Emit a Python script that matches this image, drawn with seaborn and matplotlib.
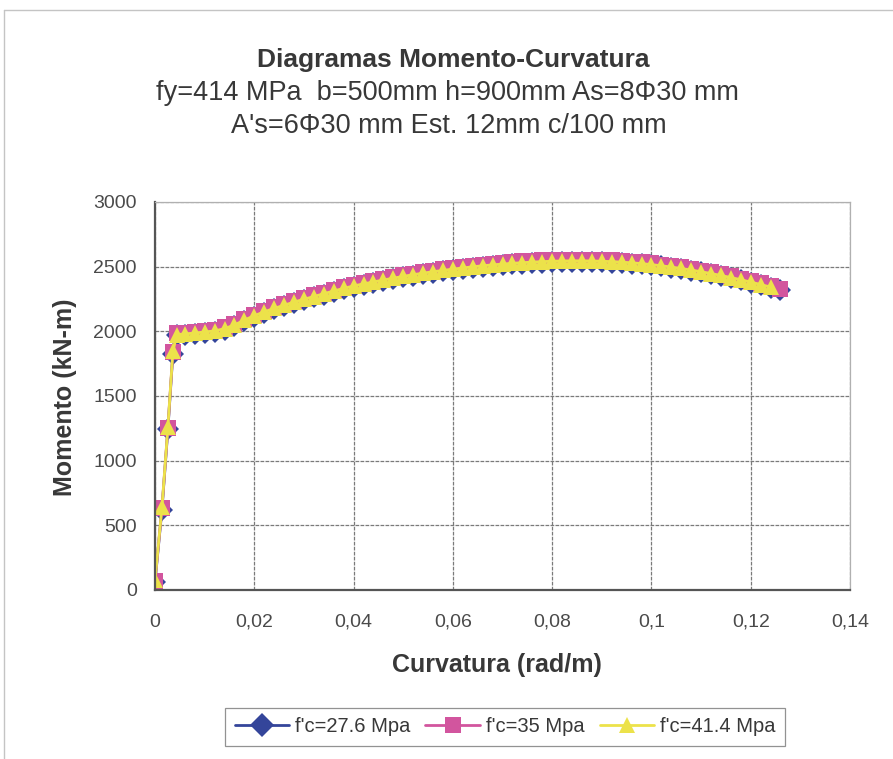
import numpy as np
import pandas as pd
import matplotlib
matplotlib.use("Agg")
import matplotlib.pyplot as plt
from matplotlib.lines import Line2D
import seaborn as sns

# Curvature (rad/m) shared by the three sections
curvatura = [
    0.0, 0.0014, 0.0026, 0.0036, 0.0044,
    0.006, 0.008, 0.010, 0.012, 0.014, 0.016, 0.018, 0.020,
    0.022, 0.024, 0.026, 0.028, 0.030, 0.032, 0.034, 0.036,
    0.038, 0.040, 0.042, 0.044, 0.046, 0.048, 0.050, 0.052,
    0.054, 0.056, 0.058, 0.060, 0.062, 0.064, 0.066, 0.068,
    0.070, 0.072, 0.074, 0.076, 0.078, 0.080, 0.082, 0.084,
    0.086, 0.088, 0.090, 0.092, 0.094, 0.096, 0.098, 0.100,
    0.102, 0.104, 0.106, 0.108, 0.110, 0.112, 0.114, 0.116,
    0.118, 0.120, 0.122, 0.124, 0.126,
]

# Moment (kN-m) for f'c = 27.6 MPa
momento_276 = [
    62, 622, 1244, 1826, 1968,
    1973, 1980, 1988, 1996, 2014, 2042, 2080, 2114,
    2144, 2170, 2195, 2219, 2241, 2262, 2284, 2305,
    2325, 2344, 2360, 2375, 2390, 2404, 2418, 2431,
    2443, 2454, 2464, 2474, 2483, 2492, 2500, 2507,
    2513, 2519, 2524, 2528, 2532, 2535, 2537, 2538,
    2538, 2537, 2535, 2532, 2528, 2524, 2518, 2510,
    2502, 2492, 2481, 2469, 2456, 2442, 2427, 2411,
    2394, 2376, 2357, 2337, 2318,
]

# Moment (kN-m) for f'c = 35 MPa
momento_35 = [
    70, 632, 1255, 1838, 1984,
    1989, 1996, 2004, 2012, 2030, 2058, 2096, 2130,
    2160, 2186, 2211, 2235, 2257, 2278, 2300, 2321,
    2341, 2360, 2376, 2391, 2406, 2420, 2434, 2447,
    2459, 2470, 2480, 2490, 2499, 2508, 2516, 2523,
    2529, 2535, 2540, 2544, 2548, 2551, 2553, 2554,
    2554, 2553, 2551, 2548, 2544, 2539, 2533, 2525,
    2516, 2506, 2495, 2483, 2470, 2456, 2441, 2425,
    2408, 2390, 2371, 2351, 2330,
]

# Moment (kN-m) for f'c = 41.4 MPa
momento_414 = [
    75, 640, 1262, 1845, 1975,
    1980, 1987, 1995, 2003, 2021, 2049, 2087, 2121,
    2151, 2177, 2202, 2226, 2248, 2269, 2291, 2312,
    2332, 2351, 2367, 2382, 2397, 2411, 2425, 2438,
    2450, 2461, 2471, 2481, 2490, 2499, 2507, 2514,
    2520, 2526, 2531, 2535, 2539, 2542, 2544, 2545,
    2545, 2544, 2542, 2539, 2535, 2530, 2524, 2516,
    2507, 2497, 2486, 2474, 2461, 2447, 2432, 2416,
    2399, 2381, 2362, 2342, np.nan,
]

series_labels = ["f'c=27.6 Mpa", "f'c=35 Mpa", "f'c=41.4 Mpa"]
x_ticks = [0, 0.02, 0.04, 0.06, 0.08, 0.1, 0.12, 0.14]
x_tick_labels = ["0", "0,02", "0,04", "0,06", "0,08", "0,1", "0,12", "0,14"]
y_ticks = [0, 500, 1000, 1500, 2000, 2500, 3000]

df = pd.concat([
    pd.DataFrame({"Curvatura": curvatura, "Momento": m, "Serie": lab})
    for m, lab in zip([momento_276, momento_35, momento_414], series_labels)
], ignore_index=True)

sns.set_theme(style="white")
plt.rcParams["font.family"] = ["Liberation Sans", "DejaVu Sans"]

palette = {
    series_labels[0]: "#34459A",
    series_labels[1]: "#D2559E",
    series_labels[2]: "#ECE24A",
}
markers = {series_labels[0]: "D", series_labels[1]: "s", series_labels[2]: "^"}
text_color = "#383838"

fig = plt.figure(figsize=(8.93, 7.59), dpi=100)
ax = fig.add_axes([155 / 893, 1 - 590 / 759, 695 / 893, 388 / 759])

sns.lineplot(
    data=df, x="Curvatura", y="Momento", hue="Serie", style="Serie",
    hue_order=series_labels, style_order=series_labels,
    palette=palette, markers=markers, dashes=False, sort=False,
    markersize=11, markeredgewidth=0, linewidth=2.0, ax=ax, legend=False,
)

ax.set_xlim(0, 0.14)
ax.set_ylim(0, 3000)
ax.set_xticks(x_ticks)
ax.set_xticklabels(x_tick_labels)
ax.set_yticks(y_ticks)
ax.tick_params(axis="both", labelsize=14, colors="#4a4a4a", length=4,
               width=1, direction="out", pad=9)
ax.tick_params(axis="x", pad=13)
ax.grid(True, color="#7a7a7a", linewidth=0.9, linestyle=(0, (3, 1)))
ax.set_axisbelow(True)
for side in ["top", "right"]:
    ax.spines[side].set_color("#b0b0b0")
    ax.spines[side].set_linewidth(0.9)
for side in ["left", "bottom"]:
    ax.spines[side].set_color("#555555")
    ax.spines[side].set_linewidth(1.6)

ax.set_xlabel("Curvatura (rad/m)", fontsize=18, fontweight="bold",
              color=text_color)
ax.set_ylabel("Momento (kN-m)", fontsize=18, fontweight="bold",
              color=text_color)
ax.xaxis.set_label_coords((497 - 155) / 695, (590 - 665) / 388)
ax.yaxis.set_label_coords((65 - 155) / 695, (590 - 397) / 388)
ax.xaxis.label.set_va("center")
ax.yaxis.label.set_va("center")

fig.text(453 / 893, 1 - 60 / 759, "Diagramas Momento-Curvatura", ha="center",
         va="center", fontsize=19, fontweight="bold", color=text_color)
fig.text(447 / 893, 1 - 93 / 759, "fy=414 MPa  b=500mm h=900mm As=8Φ30 mm",
         ha="center", va="center", fontsize=19.5, color=text_color)
fig.text(449 / 893, 1 - 126 / 759, "A's=6Φ30 mm Est. 12mm c/100 mm",
         ha="center", va="center", fontsize=19.5, color=text_color)

handles = [
    Line2D([], [], color=palette[lab], marker=markers[lab], markersize=12,
           markeredgewidth=0, linewidth=2.0)
    for lab in series_labels
]
leg = fig.legend(handles, series_labels, loc="center",
                 bbox_to_anchor=(505 / 893, 1 - 727 / 759), ncol=3,
                 fontsize=14.5, frameon=True, fancybox=False,
                 handlelength=2.7, columnspacing=0.75, handletextpad=0.3,
                 borderpad=0.45, borderaxespad=0)
leg.get_frame().set_edgecolor("#777777")
leg.get_frame().set_linewidth(0.9)
for t in leg.get_texts():
    t.set_color(text_color)

# chart-area frame along the top and left edges
fig.add_artist(Line2D([4 / 893, 1], [1 - 10 / 759, 1 - 10 / 759],
                      color="#c4c4c4", linewidth=1.0))
fig.add_artist(Line2D([4 / 893, 4 / 893], [0, 1 - 10 / 759],
                      color="#c4c4c4", linewidth=1.0))

fig.savefig("out.png", dpi=100, facecolor="white")
